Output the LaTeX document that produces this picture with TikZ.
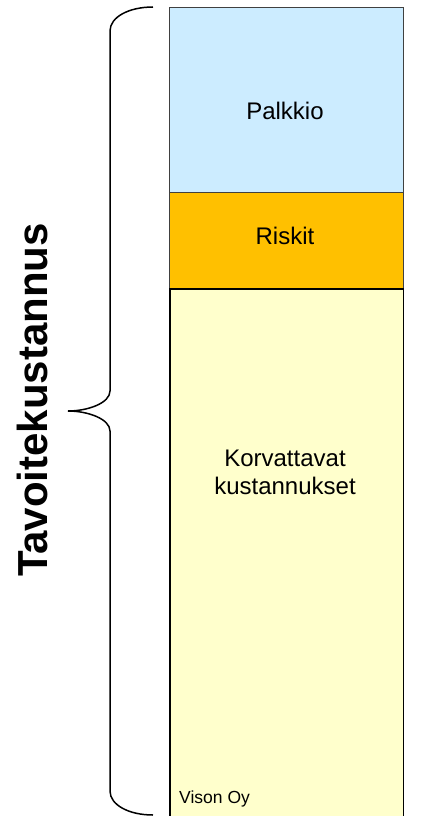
\documentclass[tikz,border=0pt]{standalone}
\usepackage{fontspec}
\setmainfont{Liberation Sans}
\definecolor{palkkiocol}{HTML}{CCECFF}
\definecolor{riskitcol}{HTML}{FFC000}
\definecolor{korvcol}{HTML}{FFFFCC}
\definecolor{edgecol}{HTML}{404040}
\tikzset{
  box/.style={draw=edgecol, line width=0.9bp, inner sep=0pt, anchor=north west, minimum width=233.4bp},
  lbl/.style={inner sep=0pt, font=\fontsize{24bp}{28bp}\selectfont, align=center},
  bracestyle/.style={draw=black, line width=1.5bp},
}
\begin{document}
\begin{tikzpicture}[x=1bp,y=-1bp]
\useasboundingbox (0,0) rectangle (440,816);
\clip (0,0) rectangle (440,816);
\fill[white] (0,0) rectangle (440,816);
\node[box, fill=korvcol, draw=black, line width=1.4bp, minimum height=535bp] (korv) at (169.3,288.3) {};
\node[box, fill=palkkiocol, minimum height=185bp] (palkkio) at (169.3,7.3) {};
\node[box, fill=riskitcol, minimum height=96bp] (riskit) at (169.3,192.3) {};
\draw[black, line width=1.4bp] (korv.north west) -- (korv.north east);
\node[lbl, anchor=base] (tpalkkio) at (285,119) {Palkkio};
\node[lbl, anchor=base] (triskit) at (285,244) {Riskit};
\node[lbl, anchor=north] (tkorv) at (285,450) {Korvattavat\\kustannukset};
\node[inner sep=0pt, anchor=base west, font=\fontsize{17.5bp}{20bp}\selectfont] (tvison) at (179,803) {Vison Oy};
\coordinate (btop) at (153,7);
\coordinate (btip) at (68,411);
\coordinate (bbot) at (153,815);
\draw[bracestyle] (btop) .. controls (129,7) and (110,17) .. (110,31)
  -- (110,391) .. controls (110,403) and (88,411) .. (btip)
  .. controls (88,411) and (110,419) .. (110,431)
  -- (110,791) .. controls (110,805) and (129,815) .. (bbot);
\node[inner sep=0pt, anchor=base, rotate=90, font=\bfseries\fontsize{42bp}{48bp}\selectfont] (ttavo) at (47,400) {Tavoitekustannus};
\end{tikzpicture}
\end{document}
